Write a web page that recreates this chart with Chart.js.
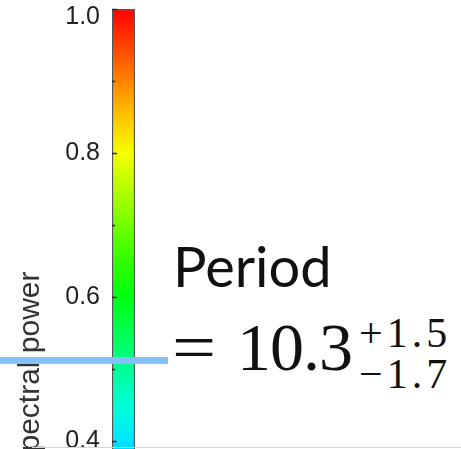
<!DOCTYPE html>
<html>
<head>
<meta charset="utf-8">
<title>Spectral power colorbar</title>
<script src="https://cdn.jsdelivr.net/npm/chart.js@4.4.1/dist/chart.umd.min.js"></script>
<style>
  html, body { margin: 0; padding: 0; background: #fff; overflow: hidden; }
  body { width: 461px; height: 449px; position: relative; }
  #barWrap { position: absolute; left: 0; top: 0; width: 150px; height: 740px; }
  .marker { position: absolute; left: 0; top: 357px; width: 168px; height: 7px; background: #84c0fa; z-index: 2; }
  .baseline { position: absolute; left: 32px; top: 447px; width: 429px; height: 1px; background: #e2cccc; }
  .txt { position: absolute; white-space: nowrap; line-height: 1; color: #111; }
  #periodLabel { left: 173px; top: 238px; font-family: Lato, "Open Sans", sans-serif; font-size: 56px; }
  #eqSign { left: 172px; top: 313px; font-family: "Liberation Serif", serif; font-size: 68px; transform: scaleX(1.15); transform-origin: left top; }
  #periodValue { left: 237px; top: 313px; font-family: "Liberation Serif", serif; font-size: 68px; letter-spacing: -1px; }
  #errUp { left: 359px; top: 312px; font-family: "Liberation Serif", serif; font-size: 42px; letter-spacing: 4px; }
  #errDown { left: 359px; top: 353px; font-family: "Liberation Serif", serif; font-size: 42px; letter-spacing: 4px; }
</style>
</head>
<body>
<div id="barWrap"><canvas id="powerBar"></canvas></div>
<div class="marker"></div>
<div class="baseline"></div>
<div class="txt" id="periodLabel"></div>
<div class="txt" id="eqSign">=</div>
<div class="txt" id="periodValue"></div>
<div class="txt" id="errUp"></div>
<div class="txt" id="errDown"></div>
<script>
// colorbar data
const categories = ['spectral power'];
const powerRange = [[0, 1]];
const tickStep = 0.1;

// fitted period and its asymmetric error
const period = 10.3;
const periodErrUp = 1.5;
const periodErrDown = 1.7;

document.getElementById('periodLabel').textContent = 'Period';
document.getElementById('periodValue').textContent = period.toFixed(1);
document.getElementById('errUp').textContent = '+' + periodErrUp.toFixed(1);
document.getElementById('errDown').textContent = '\u2212' + periodErrDown.toFixed(1);

// hue runs from red at the top down through yellow, green and cyan
function powerColor(v) {
    return 'hsl(' + ((1 - v) * 310).toFixed(1) + ', 100%, 50%)';
}

function barGradient(context) {
    const chart = context.chart;
    if (!chart.chartArea) return '#0f0';
    const y = chart.scales.y;
    const g = chart.ctx.createLinearGradient(0, y.getPixelForValue(0), 0, y.getPixelForValue(1));
    for (let i = 0; i <= 20; i++) {
        g.addColorStop(i / 20, powerColor(i / 20));
    }
    return g;
}

// short tick marks drawn inside the bar, like a matlab colorbar
const innerTicks = {
    id: 'innerTicks',
    afterDatasetsDraw(chart) {
        const ctx = chart.ctx;
        const y = chart.scales.y;
        const left = chart.chartArea.left;
        ctx.save();
        ctx.strokeStyle = '#222';
        ctx.lineWidth = 1.5;
        y.ticks.forEach(t => {
            const py = Math.round(y.getPixelForValue(t.value)) + 0.5;
            const major = Math.round(t.value * 10) % 2 === 0;
            ctx.beginPath();
            ctx.moveTo(left, py);
            ctx.lineTo(left + (major ? 5 : 3), py);
            ctx.stroke();
        });
        ctx.restore();
    }
};

Chart.defaults.font.family = '"Liberation Sans", Arial, sans-serif';
Chart.defaults.color = '#222';

new Chart(document.getElementById('powerBar'), {
    type: 'bar',
    data: {
        labels: categories,
        datasets: [{
            data: powerRange,
            backgroundColor: barGradient,
            borderColor: '#555',
            borderWidth: 1.5,
            borderSkipped: false,
            barPercentage: 1,
            categoryPercentage: 1
        }]
    },
    options: {
        responsive: true,
        maintainAspectRatio: false,
        animation: false,
        layout: { autoPadding: false, padding: { top: 9, right: 15, bottom: 11, left: 0 } },
        plugins: { legend: { display: false }, tooltip: { enabled: false } },
        scales: {
            x: { display: false },
            y: {
                min: 0,
                max: 1,
                afterFit(scale) {
                    scale.width = 112;
                    scale.paddingTop = 0;
                    scale.paddingBottom = 0;
                },
                grid: { display: false, drawTicks: false },
                border: { display: false },
                ticks: {
                    stepSize: tickStep,
                    padding: 12,
                    font: { size: 25, lineHeight: '16px' },
                    callback(v) {
                        const n = Math.round(v * 10);
                        if (n % 2 !== 0) return '';
                        // top label sits a little lower, inside the frame
                        return n === 10 ? ['', (n / 10).toFixed(1)] : (n / 10).toFixed(1);
                    }
                },
                title: {
                    display: true,
                    text: 'spectral power',
                    font: { size: 30 },
                    color: '#333',
                    padding: { top: 13, bottom: 4 }
                }
            }
        }
    },
    plugins: [innerTicks]
});
</script>
</body>
</html>
